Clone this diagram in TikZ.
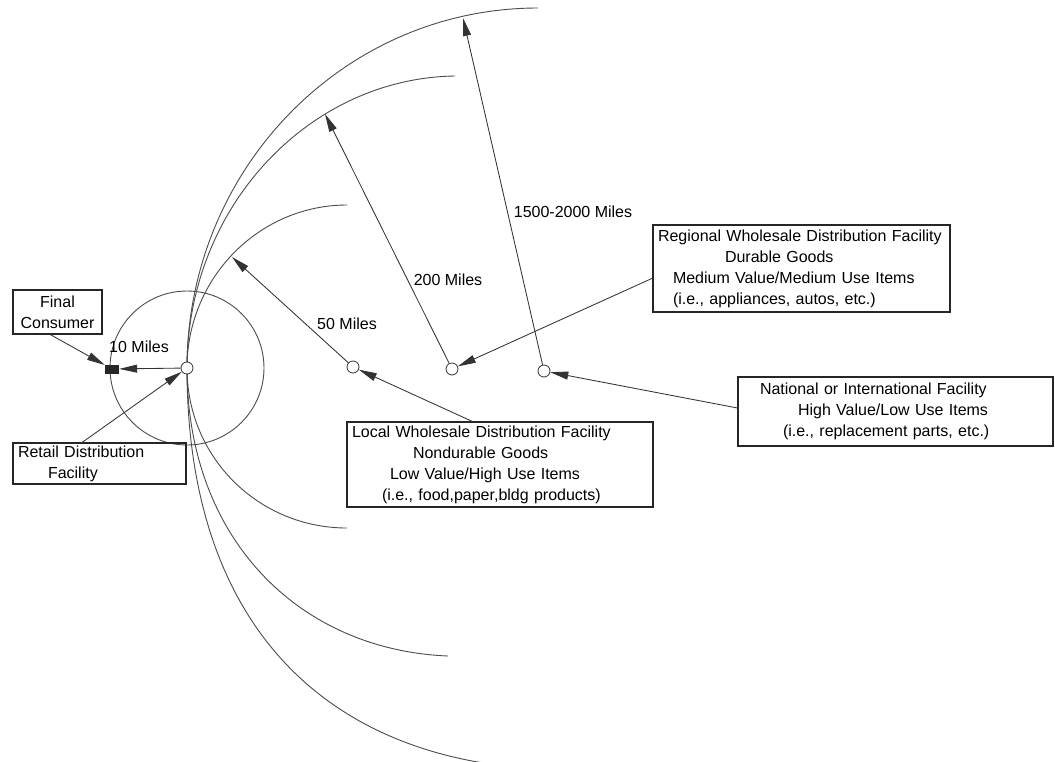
\documentclass[tikz,border=0pt]{standalone}
\usepackage{fontspec}
\setmainfont{Liberation Sans}
\usetikzlibrary{arrows.meta,calc}
\begin{document}
\begin{tikzpicture}[x=1pt,y=-1pt,
  font=\fontsize{16}{21}\selectfont,
  ln/.style={draw=black!80, line width=0.85pt},
  arcline/.style={draw=black!70, line width=0.9pt},
  tip/.style={-{Triangle[length=18pt,width=8pt]}},
  fac/.style={circle, draw=black!80, fill=white, line width=0.8pt, minimum size=12pt, inner sep=0pt},
  infobox/.style={draw=black!85, line width=1.1pt, align=left, inner xsep=5pt, inner ysep=0pt},
  lbl/.style={inner sep=1pt}
]
\useasboundingbox (0,0) rectangle (1055,761);
\fill[white] (0,0) rectangle (1055,761);

\coordinate (R) at (187,368);
% distance arcs
\draw[arcline] (R) .. controls (187,278) and (259,205) .. (347,205);
\draw[arcline] (R) .. controls (187,458) and (259,528) .. (347,528);
\draw[arcline] (R) .. controls (187,206) and (310,78) .. (455,76);
\draw[arcline] (R) .. controls (187,540) and (300,650) .. (448,656);
\draw[arcline] (R) .. controls (187,169) and (344,8) .. (538,8);
\draw[arcline] (R) .. controls (187,620) and (320,752) .. (525,768);
\draw[arcline] (R) circle (77pt);

% facilities
\node[fac] (ret) at (R) {};
\node[fac] (loc) at (353,367) {};
\node[fac] (reg) at (452,369) {};
\node[fac] (nat) at (544,371) {};
\node[fill=black!85, minimum width=14pt, minimum height=9pt, inner sep=0pt] (sq) at (112,369) {};

% boxes
\node[infobox, text width=79pt, align=center, minimum height=44pt] (fcbox) at (57.5,312) {Final\\Consumer};
\node[infobox, text width=163pt, minimum height=41pt] (rbox) at (99.5,463.5) {Retail Distribution\\\hspace*{30pt}Facility};
\node[infobox, text width=296pt, minimum height=85pt] (lbox) at (500,464.5) {Local Wholesale Distribution Facility\\\hspace*{61pt}Nondurable Goods\\\hspace*{38pt}Low Value/High Use Items\\\hspace*{30pt}(i.e., food,paper,bldg products)};
\node[infobox, text width=287pt, minimum height=87pt] (gbox) at (801.5,268.5) {Regional Wholesale Distribution Facility\\\hspace*{67pt}Durable Goods\\\hspace*{15pt}Medium Value/Medium Use Items\\\hspace*{15pt}(i.e., appliances, autos, etc.)};
\node[infobox, inner xsep=22pt, text width=271pt, minimum height=69pt] (nbox) at (895.5,411.5) {National or International Facility\\\hspace*{38pt}High Value/Low Use Items\\\hspace*{23pt}(i.e., replacement parts, etc.)};

% distance labels
\node[lbl] (l10) at (139,347) {10 Miles};
\node[lbl] (l50) at (347,324) {50 Miles};
\node[lbl] (l200) at (448,280) {200 Miles};
\node[lbl] (l1500) at (573,212) {1500-2000 Miles};

% arrow tips on the arcs
\coordinate (t50) at (232,257);
\coordinate (t200) at (325,114);
\coordinate (t1500) at (463,18);

% connectors
\draw[ln,tip] (loc) -- (t50);
\draw[ln,tip] (reg) -- (t200);
\draw[ln,tip] (nat) -- (t1500);
\draw[ln,tip] ($(lbox.north west)!0.41!(lbox.north east)$) -- (loc);
\draw[ln,tip] ($(gbox.north west)!0.61!(gbox.south west)$) -- (reg);
\draw[ln,tip] ($(nbox.north west)!0.45!(nbox.south west)$) -- (nat);
\draw[ln,tip] ($(rbox.north west)!0.4!(rbox.north east)$) -- (ret);
\draw[ln,tip] ($(fcbox.south west)!0.42!(fcbox.south east)$) -- (sq);
\draw[ln,tip] (ret) -- (sq);
\end{tikzpicture}
\end{document}
